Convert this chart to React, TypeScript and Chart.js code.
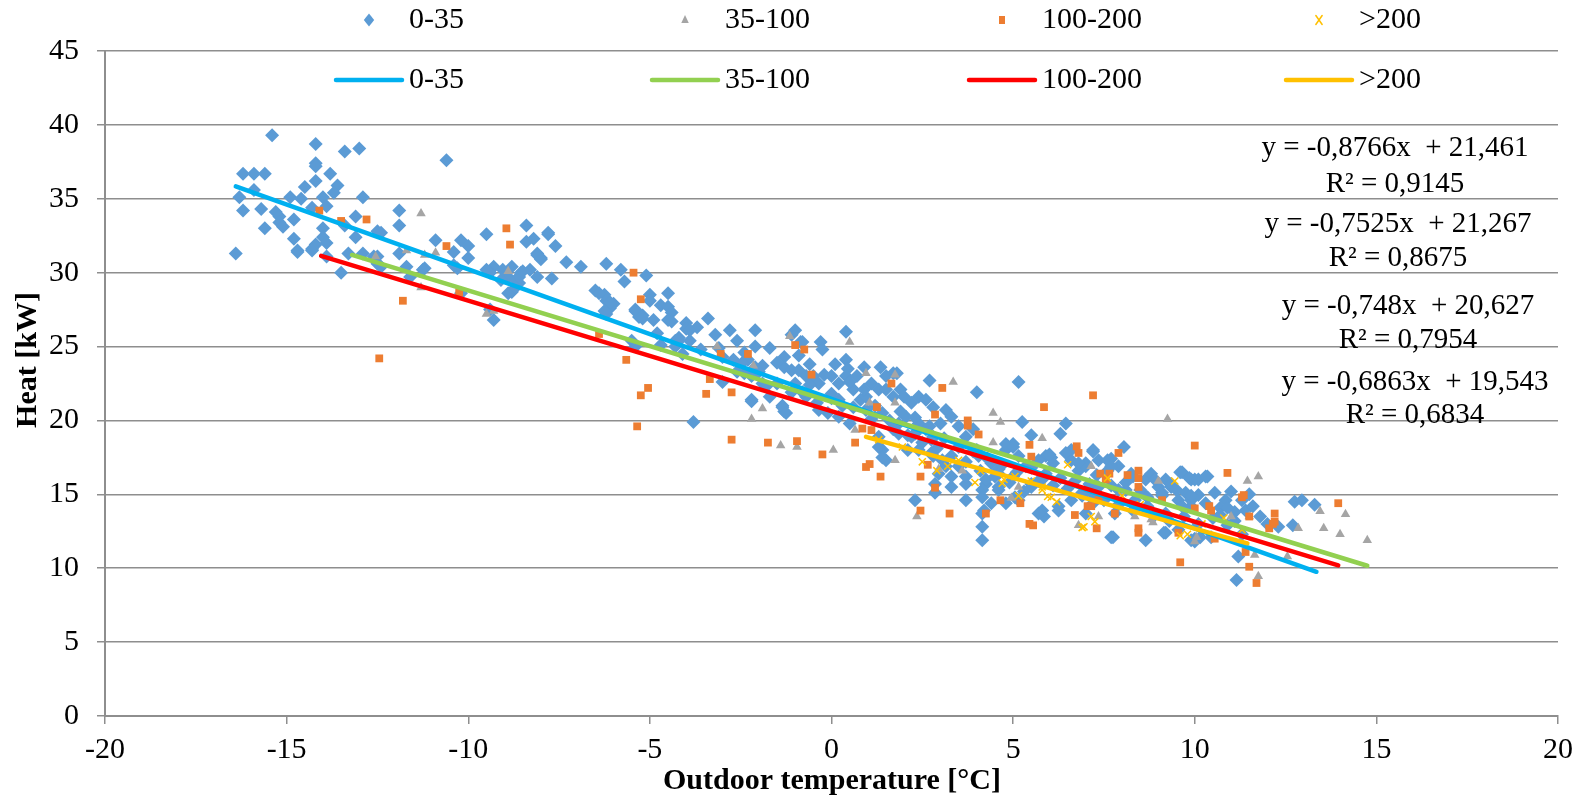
import React, { useEffect, useRef } from 'react';
import { Chart, registerables } from 'chart.js';

Chart.register(...registerables);

// ---------- data ----------
const seriesNames = ['0-35', '35-100', '100-200', '>200'];

const points0to35: [number, number][] = [
  [-16.4,31.3],[-16.3,35.1],[-16.2,34.2],[-16.2,36.7],[-15.9,36.7],[-15.6,36.7],[-15.4,39.3],[-15.9,35.6],[-15.7,34.3],[-15.6,33.0],
  [-15.3,34.1],[-15.2,33.8],[-15.2,33.4],[-15.1,33.1],[-14.9,35.1],[-14.8,33.6],[-14.8,32.3],[-14.7,31.4],[-14.6,35.0],[-14.5,35.8],
  [-14.2,38.7],[-14.2,37.4],[-14.2,37.2],[-14.2,36.2],[-14.0,35.1],[-14.0,33.0],[-14.0,32.4],[-13.9,32.0],[-14.3,31.6],[-14.2,31.9],
  [-13.8,36.7],[-13.6,35.9],[-13.7,35.4],[-13.4,38.2],[-13.0,38.4],[-12.9,35.1],[-13.1,33.8],[-13.1,32.4],[-13.3,31.3],[-13.5,30.0],
  [-14.3,34.4],[-13.9,34.5],[-13.4,33.2],[-14.7,31.5],[-14.3,31.5],[-13.9,31.1],[-12.9,31.3],[-12.5,30.6],
  [-11.9,34.2],[-11.9,33.2],[-12.5,32.8],[-12.4,32.7],[-12.6,31.1],[-12.5,31.1],[-12.4,30.4],[-11.7,30.4],[-11.2,30.3],[-10.9,32.2],
  [-10.2,32.2],[-10.0,31.8],[-10.4,31.4],[-10.0,31.0],[-10.3,30.3],[-10.2,28.6],[-11.6,29.7],[-10.6,37.6],[-9.5,32.6],[-8.4,33.2],
  [-8.4,32.1],[-8.2,32.3],[-7.8,32.6],[-7.6,31.8],[-8.1,31.3],[-8.0,31.0],[-8.3,30.2],[-8.55,30.0],[-8.8,30.4],[-8.9,29.7],
  [-8.7,29.5],[-9.1,29.5],[-9.3,30.4],[-9.4,30.0],[-8.9,28.6],[-8.8,28.7],[-9.3,26.8],[-8.1,29.7],[-7.7,29.6],[-7.3,30.7],
  [-6.9,30.4],[-11.9,31.3],[-11.25,30.2],[-9.05,30.2],[-8.6,29.3],[-8.1,31.2],[-6.2,30.6],[-5.8,30.2],[-5.7,29.4],[-6.5,28.8],
  [-6.2,28.1],[-6.1,27.6],[-6.2,27.2],[-5.4,27.4],[-5.3,27.0],[-5.1,29.8],[-5.4,25.0],[-9.4,27.5],[-8.7,29.0],[-7.8,32.7],
  [-6.25,28.5],[-6.0,27.9],[-5.0,28.5],[-5.0,28.1],[-4.7,27.8],[-4.5,28.6],[-4.5,27.7],[-4.4,27.3],[-4.5,26.8],[-4.9,26.8],
  [-5.2,27.1],[-4.0,26.6],[-3.9,25.4],[-4.2,25.4],[-4.0,26.2],[-3.7,26.3],[-3.4,26.9],[-3.2,25.8],[-2.8,26.1],[-2.6,25.4],
  [-2.1,26.1],[-2.1,25.0],[-1.7,24.9],[-1.3,24.3],[-1.3,23.6],[-1.1,25.8],[-1.0,26.1],[-2.3,24.1],[-2.45,23.9],[-2.1,23.6],
  [-1.9,23.7],[-2.2,23.0],[-2.0,23.3],[-2.2,21.3],[-1.7,21.6],[-1.35,21.0],[-1.3,20.6],[-3.8,19.9],[-5.5,25.4],[-4.8,25.9],
  [-4.3,25.4],[-10.4,30.5],[-9.5,30.2],[-8.6,29.7],[-8.5,30.1],[-8.0,30.9],
  [-6.4,28.6],[-6.1,28.0],[-6.25,27.4],[-5.4,27.5],[-5.2,26.9],[-4.4,26.7],[-4.2,25.6],[-3.9,26.1],[-0.85,25.3],[-0.3,25.3],
  [-0.25,24.8],[0.4,26.0],[0.4,24.1],[0.45,23.5],[0.9,23.6],[1.35,23.6],[1.5,23.0],[1.7,23.2],[2.7,22.7],[4.0,21.9],
  [5.15,22.6],[-4.7,25.1],[-4.3,25.0],[-3.6,24.8],[-4.1,24.5],[-3.1,24.9],[-3.0,22.6],[-2.7,24.1],[-2.4,23.2],[-1.8,22.3],
  [-2.2,21.4],[-1.5,22.5],[-1.1,23.4],[-0.9,23.4],[-0.7,23.0],[-0.5,23.0],[-0.35,22.5],[0.0,23.0],[0.2,22.5],[0.4,23.0],
  [0.0,21.8],[0.2,21.4],[0.6,22.1],[0.8,21.4],[0.95,21.6],[1.1,22.5],[1.3,22.1],[1.5,22.1],[1.7,21.6],[1.9,22.1],
  [2.0,21.6],[2.2,21.2],[2.4,21.6],[2.6,21.4],[2.8,20.9],[-1.35,20.9],[-1.25,20.5],[-0.7,21.6],[-0.35,20.7],[-0.1,20.5],
  [0.2,20.25],[0.5,19.8],[0.95,20.7],[1.3,18.9],[1.4,18.0],[1.5,17.3],[1.85,19.8],[2.05,20.25],[2.2,18.9],[2.4,19.8],
  [2.6,19.4],[2.8,18.9],[3.0,19.8],[3.15,20.7],[3.3,20.25],[3.5,19.6],[3.7,18.9],[3.9,19.4],[4.0,18.0],[4.15,15.3],
  [4.2,13.9],[4.15,12.8],[4.15,11.9],[2.3,14.6],[2.8,17.6],[2.85,15.7],[3.15,16.9],[3.3,16.2],[3.7,15.7],[4.05,17.6],
  [4.4,17.1],[4.6,16.7],[4.8,18.0],[5.0,18.4],[5.15,17.6],[5.25,19.9],[5.5,19.0],[5.9,17.6],[6.1,17.1],[6.3,19.1],
  [6.45,19.8],[6.6,18.0],[6.8,16.6],[7.0,17.1],[7.2,18.0],[7.2,14.4],[6.25,13.9],[5.85,13.5],[5.5,15.7],[5.05,14.8],
  [4.6,15.3],[4.4,14.4],[4.25,15.7],
  [-0.8,25.3],[1.8,23.2],[8.05,18.2],[9.65,16.5],[9.9,16.0],[7.2,17.9],[7.7,17.4],[7.7,12.1],[8.65,11.9],[9.2,12.4],
  [9.55,12.6],[10.0,12.0],[4.15,13.7],[4.15,14.8],[5.8,16.0],[5.5,15.5],[5.15,14.6],[4.8,14.4],[4.6,15.5],[4.25,16.0],
  [3.7,16.2],[3.5,16.9],[3.05,17.3],[2.75,17.8],[2.75,18.7],[2.3,19.1],[1.85,19.1],[1.4,17.5],[1.3,18.2],[2.1,18.0],
  [2.4,18.0],[2.95,16.4],[2.85,15.1],[3.3,15.5],[3.7,14.6],[4.6,16.4],[5.0,16.2],[5.35,16.9],[5.7,17.3],[6.05,17.5],
  [6.6,17.3],[7.0,16.9],[7.35,17.3],[7.6,16.6],[7.9,16.9],[8.25,16.4],[8.65,16.0],[9.0,15.5],[9.35,15.5],[9.75,15.1],
  [10.0,16.0],[8.8,16.4],[9.2,16.0],[7.35,15.5],[6.6,14.6],[7.15,15.1],[8.1,15.3],[8.35,14.6],[9.2,13.7],[9.55,14.6],
  [9.9,14.2],[8.7,14.2],[7.8,13.7],[7.0,13.7],
  [4.8,18.4],[5.0,18.2],[6.0,17.7],[6.45,17.8],[6.8,17.1],[7.6,17.3],[7.7,16.9],[8.3,16.2],[8.9,16.0],[9.35,15.7],
  [9.6,16.5],[9.85,16.1],[10.1,16.0],[10.35,16.2],[10.1,14.95],[10.55,15.1],[11.0,15.2],[10.85,14.6],[9.65,14.2],[9.9,14.6],
  [9.1,15.1],[8.55,15.1],[7.9,15.3],[7.35,14.8],[6.9,15.1],[6.25,14.2],[5.8,13.9],[5.7,13.7],[7.75,12.1],[9.15,12.4],
  [9.9,11.9],[10.45,12.1],[11.2,10.8],[11.15,9.2],[12.75,14.5],[12.95,14.6],[13.3,14.3],[12.7,12.9],[12.0,13.0],[10.3,16.2],
  [10.0,11.8],[10.15,12.1],
  [-1.0,22.5],[-0.8,21.9],[-0.6,23.8],[-0.4,21.2],[-0.2,23.1],[0.0,21.5],[0.1,23.8],[0.3,21.0],[0.5,22.6],[0.6,20.9],
  [0.7,23.0],[0.9,22.1],[1.1,20.1],[1.2,21.0],[1.4,20.5],[1.6,20.0],[1.7,19.4],[1.9,20.6],[2.1,19.0],[2.3,20.2],
  [2.5,18.5],[2.7,19.6],[2.9,18.1],[3.1,18.8],[3.3,17.6],[3.5,18.2],[3.7,17.2],[3.9,17.9],[4.1,16.6],[4.3,17.4],
  [4.5,16.2],[4.7,17.0],[4.9,15.8],[5.1,16.5],[5.3,15.2],[5.5,16.8],[5.7,15.9],[5.9,16.4],[6.1,15.6],[6.3,16.1],
  [6.5,15.4],[6.7,15.9],[6.9,14.9],[7.1,15.7],[7.3,16.3],[7.5,14.6],[7.7,15.6],[7.9,14.3],[8.1,15.8],[8.3,13.9],
  [8.5,15.3],[8.7,14.8],[8.9,13.6],[9.1,14.9],[9.3,13.2],[9.5,15.3],[9.7,13.5],[9.9,14.9],[10.1,13.0],[10.3,14.4],
  [10.5,13.4],[10.7,14.1],[10.9,12.9],[11.1,13.8],[11.3,12.3],
  [-3.0,24.3],[-2.6,23.3],[-2.4,24.6],[-1.9,22.5],[-1.5,23.9],[-1.1,21.9],[-0.9,24.4],[-0.6,22.4],
  [11.4,13.9],[11.6,14.2],[11.8,13.5],[11.1,13.2],[10.7,13.6],[11.3,14.6],[11.5,15.0],[10.9,14.1],[12.3,12.8]
];

const points35to100: [number, number][] = [
  [-12.55,31.1],[-11.3,34.0],[-11.7,31.5],[-11.2,31.2],[-10.9,31.35],[-11.3,29.0],[-9.5,27.2],[-9.3,27.4],[-8.9,30.1],
  [-3.15,25.0],[-2.15,23.7],[-1.15,25.7],[-1.9,20.8],[-2.2,20.1],[-1.4,18.3],[-0.95,18.2],[0.05,18.0],[0.5,25.3],
  [0.95,23.2],[1.75,23.1],[1.05,21.2],[1.75,21.2],[0.65,19.35],[1.75,17.3],[2.35,13.5],[2.95,16.7],[3.35,22.6],
  [4.45,20.5],[4.65,19.9],[3.6,16.6],[4.45,18.5],[4.95,14.75],[5.15,15.5],[6.8,12.9],[7.15,16.9],[5.8,18.8],
  [9.25,20.1],[9.0,15.9],[8.35,13.5],[8.8,13.3],[7.35,13.5],[11.45,15.9],[11.75,16.2],[13.45,13.85],[14.15,13.65],
  [14.0,12.3],[14.75,11.9],[13.55,12.7],[12.85,12.7],[12.55,10.8],[11.75,9.45],[11.65,10.9],[11.0,13.5],[11.5,13.5],
  [8.85,13.1],[10.05,12.1],[10.0,11.8]
];

const points100to200: [number, number][] = [
  [-14.1,34.2],[-13.5,33.5],[-12.8,33.6],[-11.8,28.1],[-10.6,31.8],[-8.85,31.9],[-8.95,33.0],[-10.25,28.65],[-5.45,30.0],
  [-5.25,28.2],[-6.4,25.85],[-5.65,24.1],[-12.45,24.2],[-5.05,22.2],[-5.25,21.7],[-5.35,19.6],[-3.45,21.8],[-3.35,22.8],
  [-2.75,21.9],[-3.05,24.5],[-2.3,24.5],[-1.0,25.1],[-2.75,18.7],[-1.75,18.5],[-0.95,18.6],[-0.75,24.8],[-0.55,23.1],
  [-0.25,17.7],[0.65,18.5],[0.85,19.45],[1.1,19.35],[0.95,16.85],[1.05,17.05],[1.35,16.2],[1.65,22.5],[3.05,22.2],
  [5.85,20.9],[5.45,18.35],[5.5,17.55],[5.2,14.4],[4.65,14.6],[4.25,13.7],[3.25,13.7],[2.85,15.45],[2.45,16.2],
  [2.45,13.9],[2.85,20.4],[3.75,20.0],[3.75,19.65],[4.05,19.05],[7.2,21.7],[6.75,18.25],[6.8,17.8],[6.7,13.6],
  [5.45,13.0],[5.55,12.9],[7.15,14.2],[7.3,12.7],[1.25,20.9],[2.65,17.0],[7.9,17.8],[7.65,16.4],[8.15,16.3],
  [8.45,16.6],[8.45,16.1],[8.45,15.5],[8.45,12.7],[8.45,12.4],[10.0,18.3],[7.05,14.2],[7.35,14.6],[9.6,10.4],
  [10.9,16.45],[11.35,14.95],[11.5,13.5],[11.4,11.1],[11.5,10.1],[11.7,9.0],[12.15,13.0],[12.2,13.7],[12.05,12.7],
  [13.95,14.4],[10.45,13.9],[10.4,14.2],[11.3,14.8],[10.55,12.0],[10.0,14.05],[9.1,14.6],[7.8,13.7],[7.55,16.0],
  [7.4,16.4],[9.55,12.4],[12.2,13.15]
];

const pointsOver200: [number, number][] = [
  [1.95,18.2],[3.95,15.8],[4.7,15.75],[4.75,16.0],[5.15,14.9],[5.8,15.5],[5.95,14.85],[6.5,17.0],[6.9,12.75],
  [7.15,13.5],[7.25,13.15],[7.6,16.1],[9.45,15.9],[9.6,12.2],[4.1,16.6],[5.05,16.2],[5.8,15.3],[6.05,14.8],
  [2.5,17.2],[3.2,16.9],[3.5,17.3],[5.5,15.9],[6.2,14.5],[8.0,14.9],[8.5,14.3],[10.2,13.0],[10.8,13.4],
  [11.3,12.6],[6.95,12.8],[9.8,12.3],[1.3,18.7],[2.9,16.6]
];

// trend lines y = slope * x + intercept
const trendSlopes = [-0.8766, -0.7525, -0.748, -0.6863];
const trendIntercepts = [21.461, 21.267, 20.627, 19.543];
const trendXStart = [-16.4, -13.2, -14.05, 0.95];
const trendXEnd = [13.35, 14.75, 13.95, 11.45];
const trendLabels = [
  ['y = -0,8766x  + 21,461', 'R² = 0,9145'],
  ['y = -0,7525x  + 21,267', 'R² = 0,8675'],
  ['y = -0,748x  + 20,627', 'R² = 0,7954'],
  ['y = -0,6863x  + 19,543', 'R² = 0,6834']
];

const xAxisTitle = 'Outdoor temperature [°C]';
const yAxisTitle = 'Heat [kW]';

// ---------- styles ----------
const markerColors = ['#5B9BD5', '#A5A5A5', '#ED7D31', '#FFC000'];
const lineColors = ['#00B0F0', '#92D050', '#FF0000', '#FFC000'];
const FONT = '"Liberation Serif", "Times New Roman", serif';
const GRID = '#8e8e8e';

function drawMarker(ctx: CanvasRenderingContext2D, kind: number, x: number, y: number) {
  ctx.fillStyle = markerColors[kind];
  ctx.strokeStyle = markerColors[kind];
  ctx.beginPath();
  if (kind === 0) {
    const r = 6.5;
    ctx.moveTo(x, y - r); ctx.lineTo(x + r * 0.8, y); ctx.lineTo(x, y + r); ctx.lineTo(x - r * 0.8, y); ctx.closePath(); ctx.fill();
  } else if (kind === 1) {
    const r = 5;
    ctx.moveTo(x, y - r); ctx.lineTo(x + r * 0.75, y + r * 0.6); ctx.lineTo(x - r * 0.75, y + r * 0.6); ctx.closePath(); ctx.fill();
  } else if (kind === 2) {
    ctx.rect(x - 3, y - 4, 6, 8); ctx.fill();
  } else {
    const r = 4.5;
    ctx.lineWidth = 1.5;
    ctx.moveTo(x - r * 0.7, y - r); ctx.lineTo(x + r * 0.7, y + r); ctx.moveTo(x + r * 0.7, y - r); ctx.lineTo(x - r * 0.7, y + r); ctx.stroke();
  }
}

const overlayPlugin = {
  id: 'overlay',
  afterDraw(chart: any) {
    const ctx: CanvasRenderingContext2D = chart.ctx;
    ctx.save();
    // legend
    const textStart = [409, 725, 1042, 1359];
    const row1 = 20, row2 = 80;
    ctx.font = `30px ${FONT}`;
    ctx.textBaseline = 'middle';
    ctx.textAlign = 'left';
    for (let i = 0; i < 4; i++) {
      drawMarker(ctx, i, textStart[i] - 40, row1);
      ctx.fillStyle = '#000';
      ctx.fillText(seriesNames[i], textStart[i], row1);
      ctx.strokeStyle = lineColors[i];
      ctx.lineWidth = 4.5;
      ctx.lineCap = 'round';
      ctx.beginPath();
      ctx.moveTo(textStart[i] - 73, row2);
      ctx.lineTo(textStart[i] - 7, row2);
      ctx.stroke();
      ctx.fillStyle = '#000';
      ctx.fillText(seriesNames[i], textStart[i], row2);
    }
    // equations
    const eqX = [1395, 1398, 1408, 1415];
    const eqY = [[148, 184], [224, 258], [306, 340], [382, 415]];
    ctx.font = `29px ${FONT}`;
    ctx.textAlign = 'center';
    for (let i = 0; i < 4; i++) {
      ctx.fillText(trendLabels[i][0], eqX[i], eqY[i][0]);
      ctx.fillText(trendLabels[i][1], eqX[i], eqY[i][1]);
    }
    // axis titles
    ctx.font = `bold 30px ${FONT}`;
    ctx.fillText(xAxisTitle, 832, 781);
    ctx.translate(28, 360);
    ctx.rotate(-Math.PI / 2);
    ctx.fillText(yAxisTitle, 0, 0);
    ctx.restore();
  }
};

export default function App() {
  const ref = useRef<HTMLCanvasElement | null>(null);
  useEffect(() => {
    if (!ref.current) return;
    const pointSets = [points0to35, points35to100, points100to200, pointsOver200];
    const styles = ['rectRot', 'triangle', 'rect', 'crossRot'];
    const radii = [7, 5.5, 5.5, 5];
    const pointOrder = [7, 6, 5, 4];
    const lineOrder = [3, 2, 1, 0];
    const datasets: any[] = [];
    for (let i = 0; i < 4; i++) {
      datasets.push({
        label: seriesNames[i],
        data: pointSets[i].map(([x, y]) => ({ x, y })),
        pointStyle: styles[i],
        pointRadius: radii[i],
        backgroundColor: markerColors[i],
        borderColor: markerColors[i],
        borderWidth: i === 3 ? 1.5 : 0,
        order: pointOrder[i]
      });
    }
    for (let i = 0; i < 4; i++) {
      const x0 = trendXStart[i], x1 = trendXEnd[i];
      datasets.push({
        label: seriesNames[i] + ' trend',
        data: [
          { x: x0, y: trendSlopes[i] * x0 + trendIntercepts[i] },
          { x: x1, y: trendSlopes[i] * x1 + trendIntercepts[i] }
        ],
        showLine: true,
        borderColor: lineColors[i],
        borderWidth: 4.5,
        borderCapStyle: 'round',
        pointRadius: 0,
        order: lineOrder[i]
      });
    }
    const chart = new Chart(ref.current, {
      type: 'scatter',
      data: { datasets },
      options: {
        responsive: false,
        animation: false,
        layout: { padding: { left: 0, top: 51, right: 21, bottom: 0 } },
        plugins: { legend: { display: false }, tooltip: { enabled: false } },
        scales: {
          x: {
            type: 'linear', min: -20, max: 20,
            ticks: { stepSize: 5, color: '#000', font: { family: FONT, size: 30 }, maxRotation: 0, autoSkip: false, padding: 8, callback: (v: any) => String(v) },
            grid: { drawOnChartArea: false, drawTicks: true, tickLength: 8, color: GRID, lineWidth: 1.5 },
            border: { color: GRID, width: 2 },
            afterFit: (s: any) => { s.height = 84; }
          },
          y: {
            type: 'linear', min: 0, max: 45,
            ticks: { stepSize: 5, color: '#000', font: { family: FONT, size: 30 }, padding: 18, callback: (v: any) => String(v) },
            grid: { color: GRID, lineWidth: 1.5, tickLength: 8 },
            border: { color: GRID, width: 2 },
            afterFit: (s: any) => { s.width = 105; }
          }
        }
      },
      plugins: [overlayPlugin]
    });
    return () => chart.destroy();
  }, []);
  return (
    <canvas ref={ref} width={1581} height={800} style={{ position: 'absolute', left: 0, top: 0, width: 1581, height: 800, background: '#fff' }} />
  );
}
